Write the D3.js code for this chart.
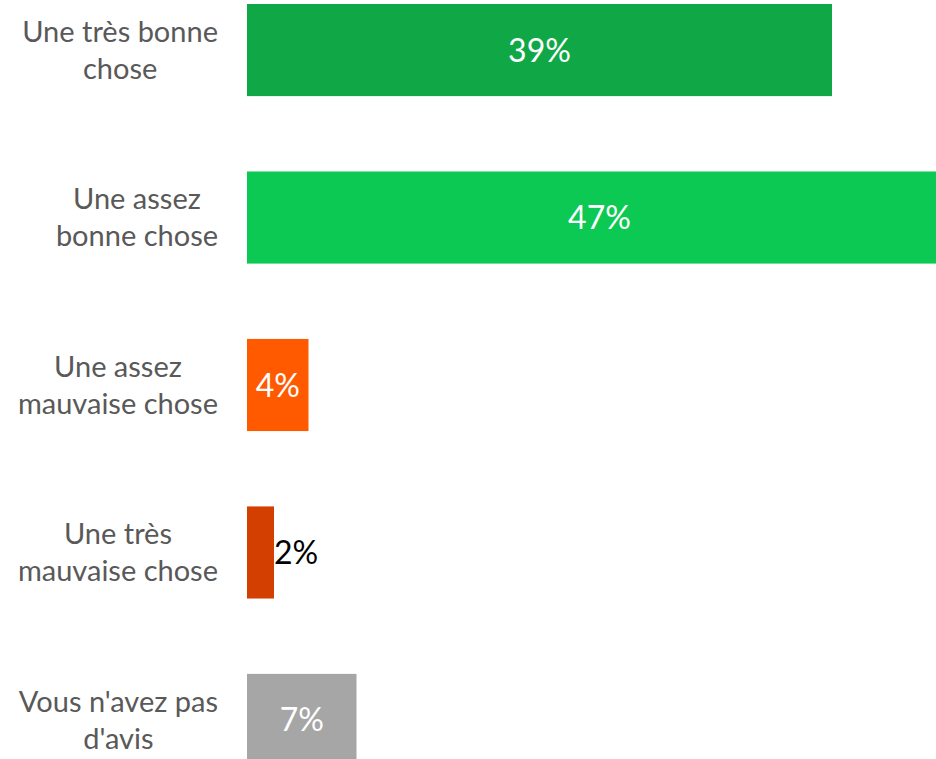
<!DOCTYPE html>
<html>
<head>
<meta charset="utf-8">
<script src="https://cdn.jsdelivr.net/npm/d3@7"></script>
<style>
  html, body { margin: 0; padding: 0; background: #ffffff; }
  svg { display: block; }
</style>
</head>
<body>
<svg id="chart" width="936" height="759"></svg>
<script>
const categories = [
  ["Une très bonne", "chose"],
  ["Une assez", "bonne chose"],
  ["Une assez", "mauvaise chose"],
  ["Une très", "mauvaise chose"],
  ["Vous n'avez pas", "d'avis"]
];
const values = [39, 47, 4.1, 1.8, 7.3];
const labels = ["39%", "47%", "4%", "2%", "7%"];
const colors = ["#10a846", "#0bc952", "#ff5a00", "#d23f00", "#a6a6a6"];
const labelInside = [true, true, true, false, true];

const svg = d3.select("#chart");
const W = 936, H = 759;
const font = "Lato, 'Open Sans', sans-serif";

const y = d3.scaleBand()
  .domain(d3.range(categories.length))
  .range([4, 766])
  .paddingInner(0.45)
  .paddingOuter(0);

const x = d3.scaleLinear()
  .domain([0, 47])
  .range([247, 247 + 47 * 15]);

svg.append("g").selectAll("rect")
  .data(values)
  .join("rect")
  .attr("x", x(0))
  .attr("y", (d, i) => y(i))
  .attr("width", d => x(d) - x(0))
  .attr("height", y.bandwidth())
  .attr("fill", (d, i) => colors[i]);

// value labels
svg.append("g").selectAll("text")
  .data(values)
  .join("text")
  .attr("x", (d, i) => labelInside[i] ? (x(0) + Math.min(x(d), W + 100)) / 2 : x(d))
  .attr("y", (d, i) => y(i) + y.bandwidth() / 2)
  .attr("dy", "0.36em")
  .attr("text-anchor", (d, i) => labelInside[i] ? "middle" : "start")
  .attr("font-family", font)
  .attr("font-size", 32)
  .attr("fill", (d, i) => labelInside[i] ? "#ffffff" : "#000000")
  .text((d, i) => labels[i]);

// category labels: centered lines in a right-aligned block
const lineH = 37;
const rightEdge = 218;
const catG = svg.append("g");
categories.forEach((lines, i) => {
  const cy = y(i) + y.bandwidth() / 2;
  const t = catG.append("text")
    .attr("font-family", font)
    .attr("font-size", 29)
    .attr("fill", "#595959")
    .attr("text-anchor", "middle");
  const spans = lines.map((ln, k) => t.append("tspan")
    .attr("y", cy + (k - (lines.length - 1) / 2) * lineH)
    .attr("dy", "0.35em")
    .text(ln));
  const maxW = d3.max(spans, s => s.node().getComputedTextLength());
  spans.forEach(s => s.attr("x", rightEdge - maxW / 2));
});
</script>
</body>
</html>
